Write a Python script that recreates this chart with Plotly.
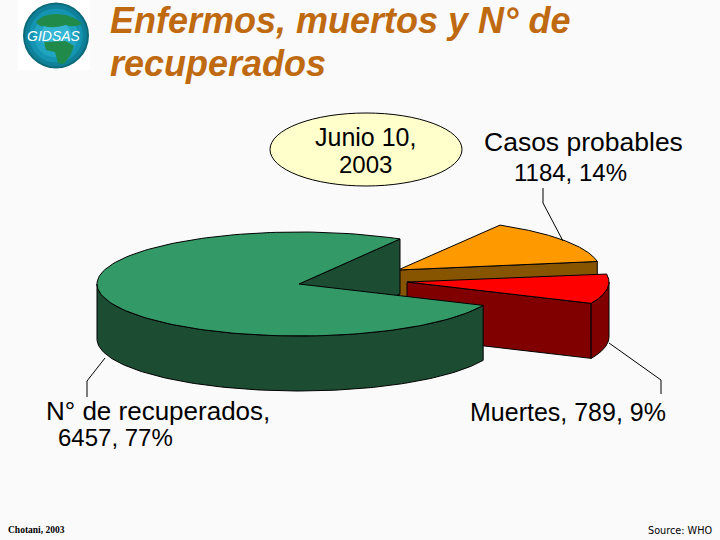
import numpy as np
import plotly.graph_objects as go

# ---- data ----
categories = ["Casos probables", "Muertes", "N° de recuperados"]
values = [1184, 789, 6457]
percent_labels = ["14%", "9%", "77%"]
title_lines = ["Enfermos, muertos y N° de", "recuperados"]
date_lines = ["Junio 10,", "2003"]

# ---- projection of the tilted pie (pixel space) ----
START = 60.0
RX, RY, DEPTH = 202.0, 52.0, 55.0
APEX = {"Casos probables": (398, 270), "Muertes": (407, 282), "N° de recuperados": (299, 284)}
TOP = {"Casos probables": "#FF9900", "Muertes": "#FF0000", "N° de recuperados": "#339966"}
SIDE = {"Casos probables": "#875400", "Muertes": "#800000", "N° de recuperados": "#1C4D33"}
BG = "#FAFAFA"

total = sum(values)
spans = {}
a = START
for c, v in zip(categories, values):
    b = a - 360.0 * v / total
    spans[c] = (a, b)
    a = b


def arc(c, a0, a1, dz=0.0, n=160):
    t = np.radians(np.linspace(a0, a1, n))
    cx, cy = APEX[c]
    return cx + RX * np.cos(t), cy - RY * np.sin(t) + dz


fig = go.Figure()


def poly(xs, ys, color):
    fig.add_trace(go.Scatter(
        x=list(xs) + [xs[0]], y=list(ys) + [ys[0]], mode="lines", fill="toself",
        fillcolor=color, line=dict(color="black", width=1),
        hoverinfo="skip", showlegend=False))


def top_face(c):
    a0, a1 = spans[c]
    x, y = arc(c, a0, a1)
    cx, cy = APEX[c]
    poly([cx] + list(x), [cy] + list(y), TOP[c])


def cut_face(c, ang):
    cx, cy = APEX[c]
    x, y = arc(c, ang, ang, n=1)
    poly([cx, x[0], x[0], cx], [cy, y[0], y[0] + DEPTH, cy + DEPTH], SIDE[c])


def wall(c, a0, a1):
    x, y = arc(c, a0, a1)
    xb, yb = arc(c, a1, a0, DEPTH)
    poly(list(x) + list(xb), list(y) + list(yb), SIDE[c])


c0, c1, c2 = categories
# orange slice: only its lower cut face faces the viewer
cut_face(c0, spans[c0][1])
top_face(c0)
# red slice
cut_face(c1, spans[c1][1])
wall(c1, spans[c1][1], 0)
top_face(c1)
# green slice
cut_face(c2, spans[c2][1])
wall(c2, -180, spans[c2][0])
top_face(c2)

shapes = []
# leader lines
for pts in ([(543, 188), (543, 203), (563, 241)],
            [(609, 343), (661, 380), (661, 394)],
            [(87, 397), (87, 381), (105, 358)]):
    path = "M " + " L ".join(f"{x},{y}" for x, y in pts)
    shapes.append(dict(type="path", path=path, line=dict(color="black", width=1)))
# date ellipse
shapes.append(dict(type="circle", x0=270, x1=462, y0=113, y1=186,
                   fillcolor="#FFFFCC", line=dict(color="black", width=1)))
# logo
shapes.append(dict(type="rect", x0=18, x1=90, y0=0, y1=70, fillcolor="white", line=dict(width=0)))
for r, col in [(33, "#0C6A78"), (31, "#0E8098"), (27, "#1494B0"), (22, "#20A4C2"), (15, "#34B6D4")]:
    shapes.append(dict(type="circle", x0=56 - r, x1=56 + r, y0=35.5 - r, y1=35.5 + r,
                       fillcolor=col, line=dict(width=0)))
for p in ("M 36,22 Q 44,13 58,14 Q 74,15 82,24 Q 74,28 66,25 Q 52,29 44,26 Q 39,27 36,22 Z",
          "M 44,42 L 66,41 L 74,46 L 70,56 L 64,64 L 58,63 L 55,52 L 46,50 Z"):
    shapes.append(dict(type="path", path=p, fillcolor="#1F8A4A", line=dict(width=0)))


def text(x, y, s, size, family="Liberation Sans", color="black", anchor="left"):
    return dict(x=x, y=y, text=s, xanchor=anchor, yanchor="middle", showarrow=False,
                font=dict(family=family, size=size, color=color), xref="x", yref="y")


TITLE_C = "#BF6A10"
ann = [
    text(108, 20, f"<b><i>{title_lines[0]}</i></b>", 36, color=TITLE_C),
    text(108, 63, f"<b><i>{title_lines[1]}</i></b>", 36, color=TITLE_C),
    text(365, 137, date_lines[0], 25, anchor="center"),
    text(365, 164, date_lines[1], 24, anchor="center"),
    text(482, 142, c0, 26.5),
    text(512, 172, f"{values[0]}, {percent_labels[0]}", 24),
    text(468, 412, f"{c1}, {values[1]}, {percent_labels[1]}", 25),
    text(44, 411, f"{c2},", 26),
    text(56, 437, f"{values[2]}, {percent_labels[2]}", 24),
    text(6, 530, "<b>Chotani, 2003</b>", 9.5, family="Liberation Serif"),
    text(646, 530, "Source: WHO", 9.7, family="DejaVu Sans"),
    text(54, 36, "<i>GIDSAS</i>", 14, color="white", anchor="center"),
]

fig.update_layout(
    width=720, height=540, margin=dict(l=0, r=0, t=0, b=0), autosize=False,
    paper_bgcolor=BG, plot_bgcolor=BG, showlegend=False,
    xaxis=dict(range=[0, 720], visible=False, fixedrange=True),
    yaxis=dict(range=[540, 0], visible=False, fixedrange=True),
    shapes=shapes, annotations=ann,
)
fig.write_html(
    "out.html", config={"displayModeBar": False},
    post_script="document.body.style.margin='0';document.documentElement.style.overflow='hidden';document.body.style.background='#FAFAFA';",
)
